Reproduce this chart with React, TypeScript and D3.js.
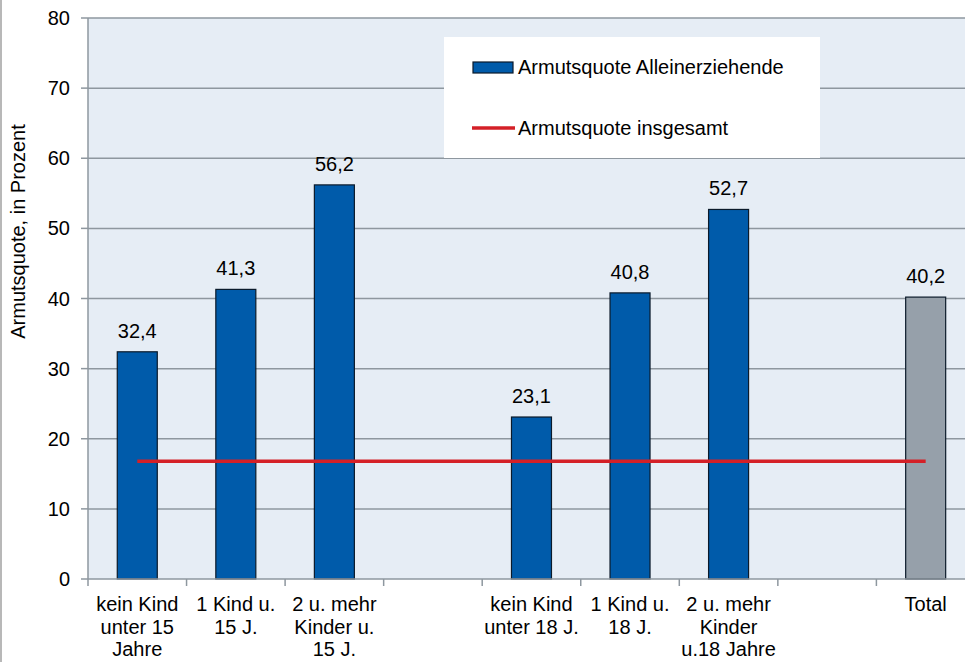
import React from "react";
import * as d3 from "d3";

const categories: string[][] = [
  ["kein Kind", "unter 15", "Jahre"],
  ["1 Kind u.", "15 J."],
  ["2 u. mehr", "Kinder u.", "15 J."],
  [],
  ["kein Kind", "unter 18 J."],
  ["1 Kind u.", "18 J."],
  ["2 u. mehr", "Kinder", "u.18 Jahre"],
  [],
  ["Total"],
];
const values: (number | null)[] = [32.4, 41.3, 56.2, null, 23.1, 40.8, 52.7, null, 40.2];
const valueLabels: string[] = ["32,4", "41,3", "56,2", "", "23,1", "40,8", "52,7", "", "40,2"];
const overallRate = 16.8;
const yTicks: number[] = [0, 10, 20, 30, 40, 50, 60, 70, 80];
const seriesNames: string[] = ["Armutsquote Alleinerziehende", "Armutsquote insgesamt"];

const W = 965;
const H = 662;
const left = 88;
const top = 18;
const bottom = 579;
const slot = 98.55;
const FS = 20;

export default function App() {
  const keys = categories.map((_, i) => String(i));
  const x = d3.scaleBand<string>().domain(keys).range([left, left + slot * keys.length]).padding(0);
  const y = d3.scaleLinear().domain([0, 80]).range([bottom, top]);
  const bw = 40;
  const font = "'Liberation Sans', Arial, sans-serif";
  const lineGen = d3
    .line<number>()
    .x((d) => d)
    .y(() => y(overallRate));
  const x0 = x("0")! + x.bandwidth() / 2;
  const x1 = x("8")! + x.bandwidth() / 2;

  return (
    <svg
      width={W}
      height={H}
      style={{ position: "absolute", left: 0, top: 0, background: "#fff", fontFamily: font }}
    >
      <line x1={1} x2={1} y1={0} y2={H} stroke="#a0a0a0" strokeWidth={1.5} />
      <rect x={left} y={top} width={W - left} height={bottom - top} fill="#E6EDF5" />
      {yTicks.map((t) => (
        <g key={t}>
          {t > 0 && (
            <line x1={left} x2={W} y1={y(t)} y2={y(t)} stroke="#8E979F" strokeWidth={1.5} />
          )}
          <line x1={left - 7} x2={left} y1={y(t)} y2={y(t)} stroke="#8E979F" strokeWidth={1.5} />
          <text x={70} y={y(t) + 7} textAnchor="end" fontSize={FS} fill="#000">
            {t}
          </text>
        </g>
      ))}
      <line x1={left} x2={left} y1={top} y2={bottom} stroke="#8E979F" strokeWidth={1.5} />
      {keys.map((k, i) =>
        values[i] == null ? null : (
          <g key={k}>
            <rect
              x={x(k)! + x.bandwidth() / 2 - bw / 2}
              y={y(values[i] as number)}
              width={bw}
              height={bottom - y(values[i] as number)}
              fill={i === 8 ? "#96A0AA" : "#005BAA"}
              stroke="#0b1a2a"
              strokeWidth={1.2}
            />
            <text
              x={x(k)! + x.bandwidth() / 2}
              y={y(values[i] as number) - 14}
              textAnchor="middle"
              fontSize={FS}
              fill="#000"
            >
              {valueLabels[i]}
            </text>
          </g>
        )
      )}
      <line x1={left} x2={W} y1={bottom} y2={bottom} stroke="#8E979F" strokeWidth={1.5} />
      {keys.map((k) => (
        <line key={k} x1={x(k)!} x2={x(k)!} y1={bottom} y2={bottom + 7} stroke="#8E979F" strokeWidth={1.5} />
      ))}
      {keys.map((k, i) => (
        <text key={k} textAnchor="middle" fontSize={FS} fill="#000">
          {categories[i].map((l, j) => (
            <tspan key={j} x={x(k)! + x.bandwidth() / 2} y={611 + j * 22.5}>
              {l}
            </tspan>
          ))}
        </text>
      ))}
      <path d={lineGen([x0, x1]) || ""} stroke="#D42027" strokeWidth={3.5} fill="none" />
      <text
        transform={`translate(24.5,231.5) rotate(-90)`}
        textAnchor="middle"
        fontSize={FS}
        fill="#000"
      >
        Armutsquote, in Prozent
      </text>
      <rect x={444} y={37} width={376} height={121} fill="#fff" />
      <rect x={473} y={62} width={40} height={11} fill="#005BAA" stroke="#0b1a2a" strokeWidth={1.2} />
      <text x={518} y={74} fontSize={FS} fill="#000">
        {seriesNames[0]}
      </text>
      <line x1={472} x2={515} y1={128} y2={128} stroke="#D42027" strokeWidth={3.5} />
      <text x={518} y={135} fontSize={FS} fill="#000">
        {seriesNames[1]}
      </text>
    </svg>
  );
}
